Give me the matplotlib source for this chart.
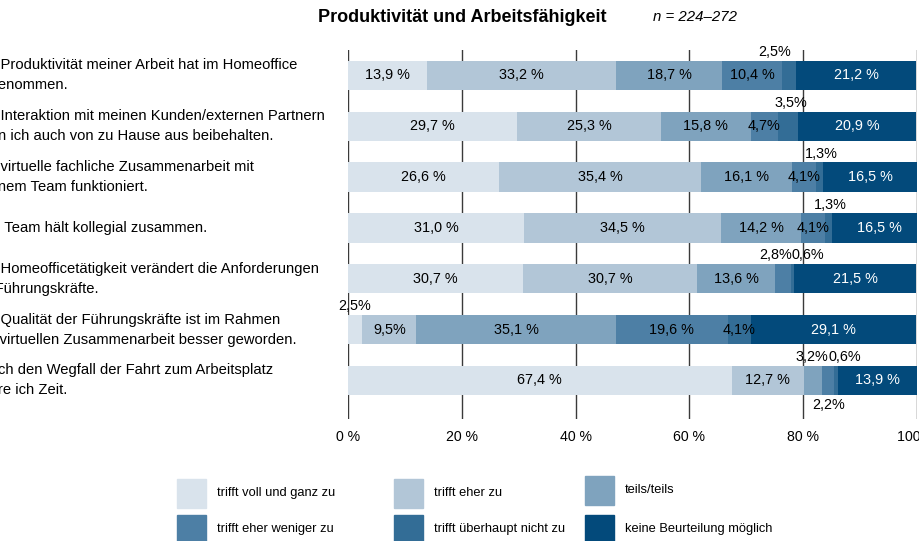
import matplotlib
matplotlib.use("Agg")
import matplotlib.pyplot as plt
from matplotlib import font_manager
from matplotlib.patches import Rectangle

# font: narrow sans if available
names = {f.name for f in font_manager.fontManager.ttflist}
NARROW = "Liberation Sans Narrow" in names
FONT = "Liberation Sans Narrow" if NARROW else "Liberation Sans"
plt.rcParams["font.family"] = [FONT, "DejaVu Sans"]
SCALE = 1.15 if NARROW else 1.0

""" Data """
statements = [
    "Die Produktivität meiner Arbeit hat im Homeoffice\nzugenommen.",
    "Die Interaktion mit meinen Kunden/externen Partnern\nkann ich auch von zu Hause aus beibehalten.",
    "Die virtuelle fachliche Zusammenarbeit mit\nmeinem Team funktioniert.",
    "Das Team hält kollegial zusammen.",
    "Die Homeofficetätigkeit verändert die Anforderungen\nan Führungskräfte.",
    "Die Qualität der Führungskräfte ist im Rahmen\nder virtuellen Zusammenarbeit besser geworden.",
    "Durch den Wegfall der Fahrt zum Arbeitsplatz\nspare ich Zeit.",
]
answers = [
    "trifft voll und ganz zu",
    "trifft eher zu",
    "teils/teils",
    "trifft eher weniger zu",
    "trifft überhaupt nicht zu",
    "keine Beurteilung möglich",
]
voll_zu      = [13.9, 29.7, 26.6, 31.0, 30.7, 2.5, 67.4]
eher_zu      = [33.2, 25.3, 35.4, 34.5, 30.7, 9.5, 12.7]
teils        = [18.7, 15.8, 16.1, 14.2, 13.6, 35.1, 3.2]
eher_weniger = [10.4, 4.7, 4.1, 4.1, 2.8, 19.6, 2.2]
gar_nicht    = [2.5, 3.5, 1.3, 1.3, 0.6, 4.1, 0.6]
keine        = [21.2, 20.9, 16.5, 16.5, 21.5, 29.1, 13.9]
series = [voll_zu, eher_zu, teils, eher_weniger, gar_nicht, keine]
ticks = [0, 20, 40, 60, 80, 100]

colors = ["#d9e3ec", "#b2c6d7", "#7fa3be", "#4d7fa5", "#336d96", "#034a7b"]

# small segments get their label outside the bar: (row, series) -> (side, shift in %)
outside = {
    (0, 4): ("above", -2.5),
    (1, 4): ("above", 0.5),
    (2, 4): ("above", 0.4),
    (3, 4): ("above", 0.3),
    (4, 3): ("above", -1.3),
    (4, 4): ("above", 2.7),
    (5, 0): ("above", 0.0),
    (6, 2): ("above", -0.1),
    (6, 3): ("below", 0.0),
    (6, 4): ("above", 1.5),
}


def fmt(v):
    s = ("%.1f" % v).replace(".", ",")
    return s + "%" if v < 10 else s + " %"


W, H = 919, 541
fig = plt.figure(figsize=(W / 100, H / 100), dpi=100)
ax = fig.add_axes([348 / W, 1 - 419 / H, 569 / W, 369 / H])

bar_h = 0.58
lab_fs = 10.4 * SCALE
rows = list(range(len(statements)))
left = [0.0] * len(rows)
for k, vals in enumerate(series):
    ax.barh(rows, vals, left=left, height=bar_h, color=colors[k], zorder=2)
    for r, v in enumerate(vals):
        cx = left[r] + v / 2
        if (r, k) in outside:
            side, dx = outside[(r, k)]
            y = r - bar_h / 2 - 0.17 if side == "above" else r + bar_h / 2 + 0.19
            ax.text(cx + dx, y, fmt(v), ha="center", va="center",
                    fontsize=lab_fs, color="black", zorder=4, clip_on=False)
        else:
            ax.text(cx, r, fmt(v), ha="center", va="center", fontsize=lab_fs,
                    color="white" if k == 5 else "black", zorder=4)
    left = [a + b for a, b in zip(left, vals)]

ax.set_xlim(0, 100)
ax.set_ylim(6.76, -0.5)
ax.set_xticks(ticks)
ax.set_xticklabels(["%d %%" % t for t in ticks], fontsize=10.2 * SCALE)
ax.tick_params(axis="x", length=0, pad=8)
ax.set_yticks([])
for s in ax.spines.values():
    s.set_visible(False)
ax.grid(axis="x", color="#3a3a3a", lw=1.0, zorder=0)
ax.set_axisbelow(True)

# statement texts, left aligned (partly outside the canvas)
trans = matplotlib.transforms.blended_transform_factory(fig.transFigure, ax.transData)
for r, txt in enumerate(statements):
    ax.text(-26 / W, r, txt, transform=trans, ha="left", va="center",
            fontsize=10.6 * SCALE, linespacing=1.55, clip_on=False)

fig.text(462 / W, 1 - 18 / H, "Produktivität und Arbeitsfähigkeit",
         ha="center", va="center", fontsize=13, fontweight="bold")
fig.text(653 / W, 1 - 17 / H, "n = 224–272", ha="left", va="center",
         fontsize=10.8 * SCALE, style="italic")

# legend, two rows of three
leg_x = [177, 394, 585]
leg_y = [479, 515]
for k, name in enumerate(answers):
    col, row = k % 3, k // 3
    lift = 3 if (col == 2 and row == 0) else 0
    x0, y0 = leg_x[col], leg_y[row] - lift
    fig.add_artist(Rectangle((x0 / W, 1 - (y0 + 29) / H), 29 / W, 29 / H,
                             transform=fig.transFigure, color=colors[k]))
    fig.text((x0 + 40) / W, 1 - (y0 + 14) / H, name, ha="left", va="center",
             fontsize=9.3 * SCALE)

fig.savefig("out.png", dpi=100)
